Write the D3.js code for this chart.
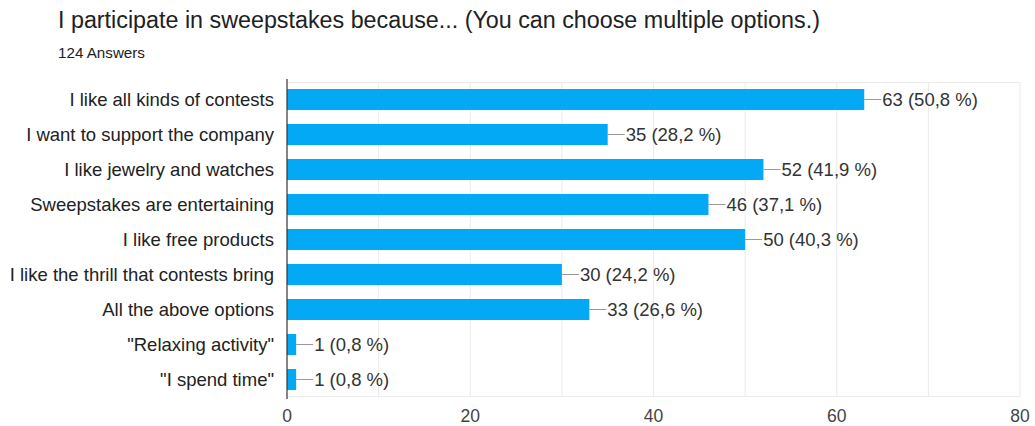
<!DOCTYPE html>
<html>
<head>
<meta charset="utf-8">
<script src="https://cdn.jsdelivr.net/npm/d3@7"></script>
<style>
  body { margin: 0; background: #fff; font-family: "Liberation Sans", Arial, sans-serif; }
</style>
</head>
<body>
<div id="chart"></div>
<script>
var categories = [
  'I like all kinds of contests',
  'I want to support the company',
  'I like jewelry and watches',
  'Sweepstakes are entertaining',
  'I like free products',
  'I like the thrill that contests bring',
  'All the above options',
  '"Relaxing activity"',
  '"I spend time"'
]
var counts = [63, 35, 52, 46, 50, 30, 33, 1, 1]
var percents = ['50,8', '28,2', '41,9', '37,1', '40,3', '24,2', '26,6', '0,8', '0,8']
var xTicks = [0, 20, 40, 60, 80]
var gridTicks = [10, 20, 30, 40, 50, 60, 70, 80]

var width = 1035, height = 426
var margin = {top: 82, right: 15, bottom: 29, left: 287}

var svg = d3.select('#chart')
  .append('svg')
  .attr('width', width)
  .attr('height', height)

svg.append('text')
  .attr('x', 58).attr('y', 28)
  .attr('font-size', 23.3)
  .attr('fill', '#202124')
  .text('I participate in sweepstakes because... (You can choose multiple options.)')

svg.append('text')
  .attr('x', 58).attr('y', 58)
  .attr('font-size', 15.2)
  .attr('fill', '#202124')
  .text('124 Answers')

var x = d3.scaleLinear()
  .domain([0, 80])
  .range([margin.left, width - margin.right])

var y = d3.scaleBand()
  .domain(categories)
  .range([margin.top, height - margin.bottom])
  .paddingInner(0.4)
  .paddingOuter(0.2)

// gridlines
svg.append('g')
  .selectAll('line')
  .data(gridTicks)
  .join('line')
  .attr('x1', d => x(d)).attr('x2', d => x(d))
  .attr('y1', margin.top).attr('y2', height - margin.bottom)
  .attr('stroke', '#ebebeb')
  .attr('stroke-width', 1)

svg.append('line')
  .attr('x1', margin.left).attr('x2', width - margin.right)
  .attr('y1', margin.top + 0.5).attr('y2', margin.top + 0.5)
  .attr('stroke', '#ebebeb')
svg.append('line')
  .attr('x1', margin.left).attr('x2', width - margin.right)
  .attr('y1', height - margin.bottom - 0.5).attr('y2', height - margin.bottom - 0.5)
  .attr('stroke', '#ebebeb')

// bars
svg.append('g')
  .selectAll('rect')
  .data(counts)
  .join('rect')
  .attr('x', x(0))
  .attr('y', (d, i) => y(categories[i]))
  .attr('width', d => x(d) - x(0))
  .attr('height', y.bandwidth())
  .attr('fill', '#03a9f4')

// leader lines and value labels
var labels = svg.append('g')
labels.selectAll('line')
  .data(counts)
  .join('line')
  .attr('x1', d => x(d)).attr('x2', d => x(d) + 17)
  .attr('y1', (d, i) => y(categories[i]) + y.bandwidth() / 2)
  .attr('y2', (d, i) => y(categories[i]) + y.bandwidth() / 2)
  .attr('stroke', '#999')
  .attr('stroke-width', 1)

labels.selectAll('text')
  .data(counts)
  .join('text')
  .attr('x', d => x(d) + 18)
  .attr('y', (d, i) => y(categories[i]) + y.bandwidth() / 2)
  .attr('dy', '0.36em')
  .attr('font-size', 18.5)
  .attr('fill', '#333')
  .text((d, i) => d + ' (' + percents[i] + ' %)')

// y axis line
svg.append('line')
  .attr('x1', margin.left).attr('x2', margin.left)
  .attr('y1', margin.top - 3).attr('y2', height - margin.bottom + 2)
  .attr('stroke', '#333')
  .attr('stroke-width', 1.2)

// category labels
svg.append('g')
  .selectAll('text')
  .data(categories)
  .join('text')
  .attr('x', margin.left - 13)
  .attr('y', d => y(d) + y.bandwidth() / 2)
  .attr('dy', '0.36em')
  .attr('text-anchor', 'end')
  .attr('font-size', 18.5)
  .attr('fill', '#222')
  .text(d => d)

// x axis tick labels
svg.append('g')
  .selectAll('text')
  .data(xTicks)
  .join('text')
  .attr('x', d => x(d))
  .attr('y', 422)
  .attr('text-anchor', 'middle')
  .attr('font-size', 17.5)
  .attr('fill', '#444')
  .text(d => d)
</script>
</body>
</html>
